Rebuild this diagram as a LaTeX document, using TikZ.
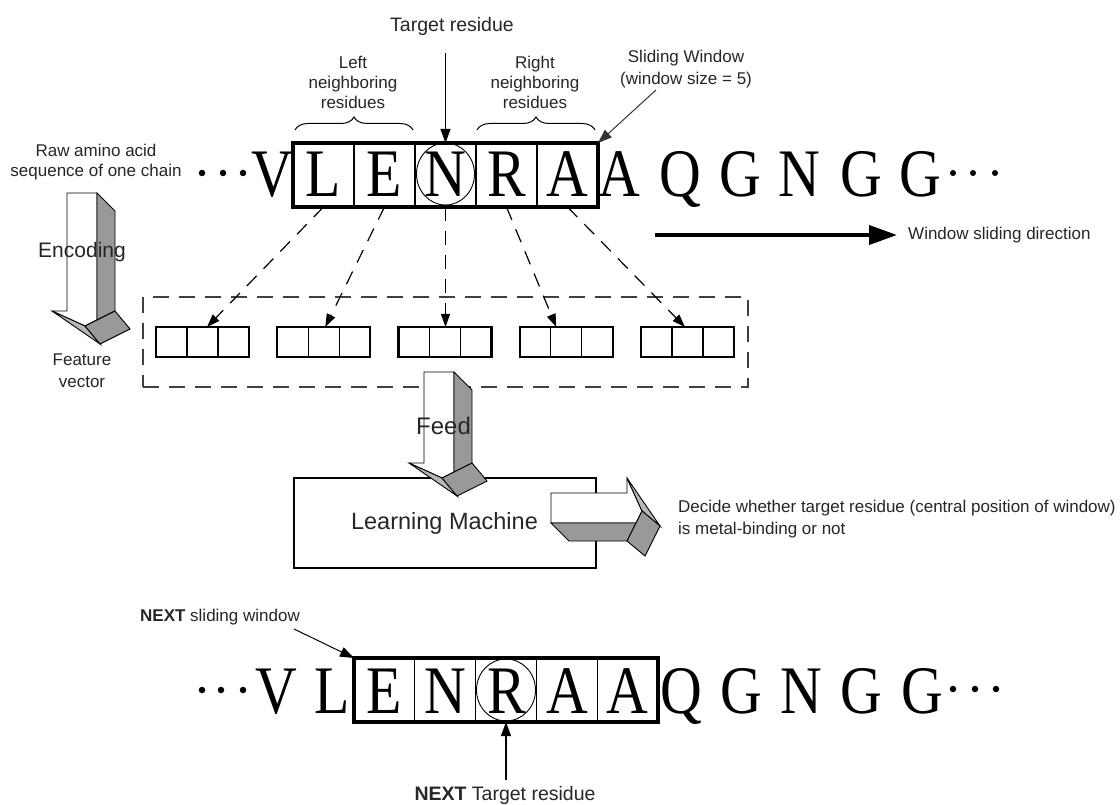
\documentclass[tikz,border=0pt]{standalone}
\usepackage{fontspec}
\usepackage{graphicx}
\setmainfont{Liberation Sans}
\newfontfamily\seqfont{Liberation Serif}
\usetikzlibrary{arrows.meta,calc,decorations.pathreplacing}

% condensed residue letter
\newcommand\seqglyph[1]{\scalebox{0.85}[1]{#1}}

% 3-D block arrow in local coordinates: a across the shaft, b along it; #1 = shaft length
\newcommand\blockarrow[1]{%
  \filldraw[fill=white] (0,0) -- (30,0) -- (30,{#1+9}) -- (18,{#1+15}) -- (-15,#1) -- (0,#1) -- cycle;
  \filldraw[fill=black!40] (30,0) -- (48,18) -- (48,#1) -- (30,{#1+9}) -- cycle;
  \filldraw[fill=black!28] (-15,#1) -- (18,{#1+15}) -- (33,{#1+33}) -- cycle;
  \filldraw[fill=black!40] (18,{#1+15}) -- (48,#1) -- (63,{#1+18}) -- (33,{#1+33}) -- cycle;
}

\tikzset{
  txt/.style={inner sep=0pt, align=center, text=black!85},
  small/.style={txt, font=\fontsize{17}{20}\selectfont},
  smallwide/.style={txt, font=\fontsize{17}{22}\selectfont},
  mid/.style={txt, font=\fontsize{19.5}{22}\selectfont},
  seqch/.style={inner sep=0pt, anchor=base, font=\seqfont\fontsize{68}{68}\selectfont},
  cellbox/.style={draw, line width=1.3pt, minimum width=61pt, minimum height=64pt, inner sep=0pt, outer sep=0pt},
  winbox/.style={draw, line width=3.2pt, minimum height=64pt, inner sep=0pt, outer sep=0pt},
  fvbox/.style={draw, line width=2.2pt, minimum width=93pt, minimum height=30pt, inner sep=0pt, outer sep=0pt},
  fvcell/.style={draw, line width=1.2pt, minimum width=31pt, minimum height=30pt, inner sep=0pt, outer sep=0pt},
  dashlink/.style={line width=1.2pt, dash pattern=on 14pt off 10pt, -{Triangle[length=13pt,width=9pt]}},
  pointer/.style={line width=1.1pt, -{Triangle[length=14pt,width=10pt]}},
  dotmark/.style={circle, fill, inner sep=0pt, minimum size=#1},
  dotmark/.default=6.5pt,
  bigbrace/.style={decorate, decoration={brace, amplitude=13pt}, line width=1pt},
}

\begin{document}
\begin{tikzpicture}[x=1pt, y=-1pt, line join=miter]
\useasboundingbox (0,0) rectangle (1120,805);
\fill[white] (0,0) rectangle (1120,805);

% ---------- current window ----------
\foreach \i in {1,...,5}
  \node[cellbox] (c\i) at ({293+61*(\i-0.5)},175) {};
\node[winbox, minimum width=305pt] (win) at (445.5,175) {};

\foreach \ch/\xx [count=\i] in {V/272, L/323.5, E/384.5, N/445.5, R/506.5, A/567.5,
                                A/619, Q/680, G/740, N/799, G/861, G/920}
  \node[seqch] (ta\i) at (\xx,197) {\seqglyph{\ch}};
\draw[line width=0.9pt] (445.5,174) ellipse [x radius=29, y radius=31];

\node[dotmark] (dl1) at (202,173) {};
\node[dotmark] (dl2) at (223,173) {};
\node[dotmark] (dl3) at (243,173) {};
\node[dotmark=6pt] (dr1) at (953,173) {};
\node[dotmark=6pt] (dr2) at (973,173) {};
\node[dotmark=6pt] (dr3) at (995,173) {};

% labels above the window
\node[mid] (tgt) at (452,26) {Target residue};
\coordinate (tgtstart) at (445.5,53);
\draw[pointer] (tgtstart) -- (win.north);

\node[small] (lft) at (353,82.5) {Left\\neighboring\\residues};
\node[small] (rgt) at (535,82.5) {Right\\neighboring\\residues};
\draw[bigbrace] (295,130) -- (413,130);
\draw[bigbrace] (477,130) -- (595,130);

\node[smallwide] (sw) at (686,69) {Sliding Window\\(window size = 5)};
\coordinate (swstart) at (656,90);
\draw[pointer, line width=1pt, draw=black!80] (swstart) -- (win.north east);

\node[small] (raw) at (96,162) {Raw amino acid\\sequence of one chain};

% sliding direction
\node[small, anchor=west] (wsd) at (908,235) {Window sliding direction};
\coordinate (dirstart) at (655,235);
\draw[line width=4pt, -{Triangle[length=28pt,width=19pt]}] (dirstart) -- ([xshift=-11pt]wsd.west);

% ---------- encoding ----------
\begin{scope}[shift={(67,193)}, line width=0.9pt]
  \blockarrow{118}
\end{scope}
\node[txt, font=\fontsize{21}{24}\selectfont] (enc) at (82,252) {Encoding};
\node[smallwide] (fvlbl) at (82,371) {Feature\\vector};

% feature vectors
\node[draw=black!75, line width=1.5pt, dash pattern=on 16pt off 10pt,
      minimum width=605pt, minimum height=90pt, inner sep=0pt] (grp) at (445.5,342) {};
\foreach \i in {1,...,5} {
  \node[fvcell] (fa\i) at ({202.5+121.25*(\i-1)-31},342) {};
  \node[fvcell] (fb\i) at ({202.5+121.25*(\i-1)},342) {};
  \node[fvcell] (fc\i) at ({202.5+121.25*(\i-1)+31},342) {};
  \node[fvbox] (fv\i) at ({202.5+121.25*(\i-1)},342) {};
}
\draw[dashlink] (c1.south) -- ($(fv1.north)+(4.5,0)$);
\draw[dashlink] (c2.south) -- ($(fv2.north)+(1.5,0)$);
\draw[dashlink] (c3.south) -- ($(fv3.north)+(0.5,0)$);
\draw[dashlink] (c4.south) -- ($(fv4.north)+(-10,0)$);
\draw[dashlink] (c5.south) -- ($(fv5.north)+(-2.5,0)$);

% ---------- learning machine ----------
\node[draw, line width=1.2pt, minimum width=302pt, minimum height=90pt, inner sep=0pt] (lm) at (445,523) {};
\begin{scope}[shift={(424,372)}, line width=0.9pt]
  \blockarrow{91}
\end{scope}
\node[txt, font=\fontsize{24}{26}\selectfont] (feed) at (443.5,426) {Feed};
\node[txt, font=\fontsize{23.5}{26}\selectfont] (lmtext) at (444.5,523) {Learning Machine};
\begin{scope}[shift={(551,493)}, cm={0,-1,-1,0,(0,0)}, line width=0.9pt]
  \blockarrow{76}
\end{scope}
\node[smallwide, align=left, anchor=west] (dec) at (678,519)
  {Decide whether target residue (central position of window)\\is metal-binding or not};

% ---------- next window ----------
\foreach \i in {1,...,5}
  \node[cellbox, minimum width=60.8pt] (n\i) at ({354+60.8*(\i-0.5)},690) {};
\node[winbox, minimum width=304pt] (nwin) at (506,690) {};

\foreach \ch/\xx [count=\i] in {V/276, L/332, E/384.5, N/445.5, R/506.5, A/567.5,
                                A/627.5, Q/681, G/741, N/801, G/861, G/922}
  \node[seqch] (tb\i) at (\xx,713) {\seqglyph{\ch}};
\draw[line width=0.9pt] (506,690) ellipse [x radius=29.5, y radius=31];

\node[dotmark] (el1) at (202,690) {};
\node[dotmark] (el2) at (221,690) {};
\node[dotmark] (el3) at (243,690) {};
\node[dotmark] (er1) at (953,689) {};
\node[dotmark] (er2) at (975,689) {};
\node[dotmark] (er3) at (996,689) {};

\node[small] (nsw) at (220,617) {\textbf{NEXT} sliding window};
\coordinate (nswstart) at (294,629);
\draw[pointer, line width=1pt] (nswstart) -- (nwin.north west);

\node[mid] (ntr) at (505,795) {\textbf{NEXT} Target residue};
\coordinate (ntrstart) at (506,780);
\draw[pointer] (ntrstart) -- (nwin.south);
\end{tikzpicture}
\end{document}
